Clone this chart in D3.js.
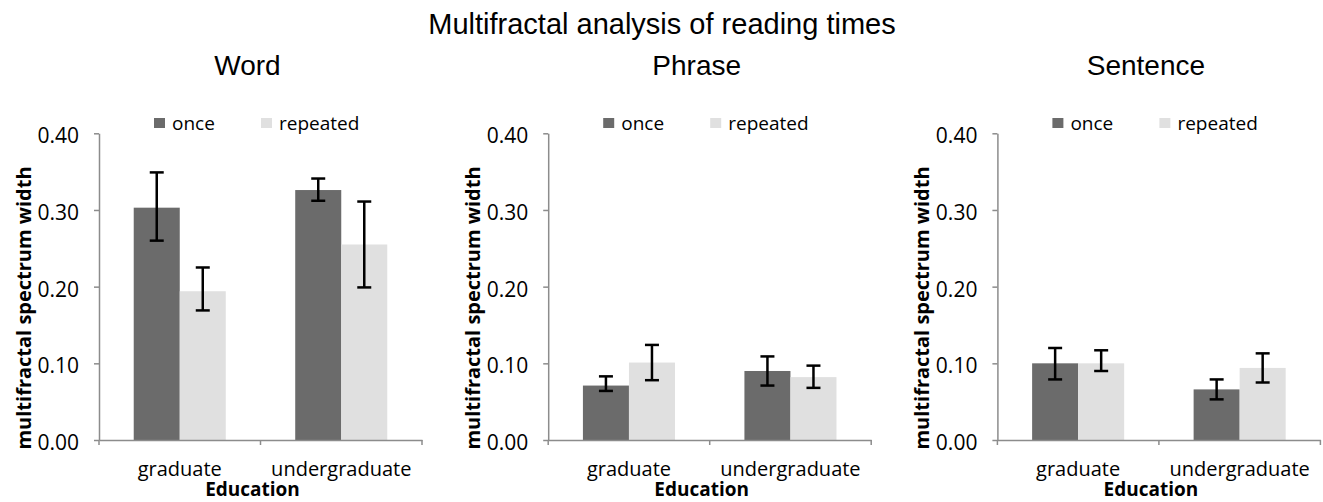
<!DOCTYPE html>
<html lang="en">
<head>
<meta charset="utf-8">
<title>Multifractal analysis of reading times</title>
<script src="https://cdn.jsdelivr.net/npm/d3@7"></script>
<style>
  body { margin: 0; background: #fff; }
  text { fill: #000; }
  .tick text { font-family: 'Open Sans', sans-serif; font-size: 20px; }
  .yaxis .tick text { font-size: 21px; }
  .axis path, .axis line { stroke: #8c8c8c; stroke-width: 1.5px; }
</style>
</head>
<body>
<div id="chart"></div>
<script>

/* Data */
/* ==== */

var panels = ['Word', 'Phrase', 'Sentence'];
var categories = ['graduate', 'undergraduate'];
var seriesNames = ['once', 'repeated'];
var yTicks = [0, 0.1, 0.2, 0.3, 0.4];

// mean per panel, per category
var onceValues     = [[0.303, 0.326], [0.071, 0.090], [0.100, 0.066]];
var repeatedValues = [[0.194, 0.255], [0.101, 0.082], [0.100, 0.094]];

// error bar ends per panel, per category
var onceLow      = [[0.260, 0.312], [0.064, 0.071], [0.079, 0.053]];
var onceHigh     = [[0.349, 0.341], [0.083, 0.109], [0.120, 0.079]];
var repeatedLow  = [[0.169, 0.199], [0.078, 0.068], [0.090, 0.075]];
var repeatedHigh = [[0.225, 0.311], [0.124, 0.097], [0.117, 0.113]];

var colors = { once: '#6b6b6b', repeated: '#e0e0e0' };


/* Layout */
/* ====== */

var width = 1323,
    height = 502,
    plotTop = 133.3,
    plotBottom = 440,
    plotWidth = 323,
    firstLeft = 99,
    panelStep = 449.2;

var svg = d3.select('#chart').append('svg')
    .attr('width', width)
    .attr('height', height);

// main title
svg.append('text')
    .attr('x', 662)
    .attr('y', 34)
    .attr('text-anchor', 'middle')
    .style('font-family', "'Liberation Sans', Arial, sans-serif")
    .style('font-size', '29px')
    .text('Multifractal analysis of reading times');

var y = d3.scaleLinear()
    .domain([0, 0.4])
    .range([plotBottom, plotTop]);

var x = d3.scaleBand()
    .domain(categories)
    .range([0, plotWidth])
    .paddingInner(0.43)
    .paddingOuter(0.215);

var xs = d3.scaleBand()
    .domain(seriesNames)
    .range([0, x.bandwidth()]);


/* Panels */
/* ====== */

panels.forEach(function(name, p) {

  var left = firstLeft + p * panelStep;
  var g = svg.append('g').attr('transform', 'translate(' + left + ',0)');

  // panel title
  g.append('text')
      .attr('x', plotWidth / 2 - 13)
      .attr('y', 75)
      .attr('text-anchor', 'middle')
      .style('font-family', "'Liberation Sans', Arial, sans-serif")
      .style('font-size', '28px')
      .text(name);

  // bars
  var rows = categories.map(function(c, i) {
    return [
      { cat: c, s: 'once', v: onceValues[p][i], lo: onceLow[p][i], hi: onceHigh[p][i] },
      { cat: c, s: 'repeated', v: repeatedValues[p][i], lo: repeatedLow[p][i], hi: repeatedHigh[p][i] }
    ];
  }).flat();

  g.selectAll('rect.bar')
    .data(rows)
    .join('rect')
      .attr('class', 'bar')
      .attr('x', function(d) { return x(d.cat) + xs(d.s); })
      .attr('width', xs.bandwidth())
      .attr('y', function(d) { return y(d.v); })
      .attr('height', function(d) { return y(0) - y(d.v); })
      .attr('fill', function(d) { return colors[d.s]; });

  // error bars
  var err = g.selectAll('g.err')
    .data(rows)
    .join('g')
      .attr('class', 'err')
      .attr('transform', function(d) {
        return 'translate(' + (x(d.cat) + xs(d.s) + xs.bandwidth() / 2) + ',0)';
      })
      .attr('stroke', '#000')
      .attr('stroke-width', 2.5);

  err.append('line')
      .attr('y1', function(d) { return y(d.lo); })
      .attr('y2', function(d) { return y(d.hi); });
  err.append('line')
      .attr('x1', -7).attr('x2', 7)
      .attr('y1', function(d) { return y(d.lo); })
      .attr('y2', function(d) { return y(d.lo); });
  err.append('line')
      .attr('x1', -7).attr('x2', 7)
      .attr('y1', function(d) { return y(d.hi); })
      .attr('y2', function(d) { return y(d.hi); });

  // y axis
  g.append('g')
      .attr('class', 'axis yaxis')
      .call(d3.axisLeft(y).tickValues(yTicks).tickFormat(d3.format('.2f')).tickSize(5).tickSizeOuter(0).tickPadding(15))
      .call(function(a) {
        a.selectAll('.tick text').attr('dy', '0.45em');
      });

  // x axis: labels at band centres, ticks at band boundaries
  var xAxis = g.append('g')
      .attr('class', 'axis')
      .attr('transform', 'translate(0,' + plotBottom + ')')
      .call(d3.axisBottom(x).tickSize(0).tickSizeOuter(0).tickPadding(22));

  var bounds = [0, x.range()[1] / 2, x.range()[1]];
  xAxis.selectAll('line.bound')
    .data(bounds)
    .join('line')
      .attr('class', 'bound')
      .attr('x1', function(d) { return d; })
      .attr('x2', function(d) { return d; })
      .attr('y1', 0)
      .attr('y2', 5);

  // axis titles
  g.append('text')
      .attr('x', plotWidth / 2 - 8)
      .attr('y', 496)
      .attr('text-anchor', 'middle')
      .style('font-family', "'Open Sans', sans-serif")
      .style('font-weight', 'bold')
      .style('font-size', '19px')
      .text('Education');

  g.append('text')
      .attr('transform', 'translate(' + (31 - firstLeft) + ',308) rotate(-90)')
      .attr('text-anchor', 'middle')
      .style('font-family', "'Open Sans', sans-serif")
      .style('font-weight', 'bold')
      .style('font-size', '20px')
      .text('multifractal spectrum width');

  // legend
  var legend = g.selectAll('g.legend')
    .data(seriesNames)
    .join('g')
      .attr('class', 'legend')
      .attr('transform', function(d, i) { return 'translate(' + (55 + i * 107) + ',0)'; });

  legend.append('rect')
      .attr('y', 118)
      .attr('width', 11)
      .attr('height', 10)
      .attr('fill', function(d) { return colors[d]; });

  legend.append('text')
      .attr('x', 18)
      .attr('y', 130)
      .style('font-family', "'Open Sans', sans-serif")
      .style('font-size', '19px')
      .text(function(d) { return d; });

});

</script>
</body>
</html>
